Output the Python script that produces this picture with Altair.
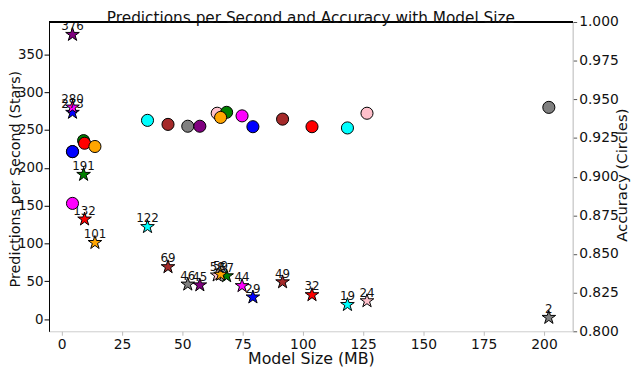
import altair as alt
import pandas as pd

# model sizes (MB), one entry per model, in plotting order
model_size = [4.5, 4.5, 4.5, 9.1, 9.5, 13.8, 35.6, 44.1, 52.3, 57.3,
              64.5, 68.4, 65.9, 74.8, 79.3, 91.6, 103.8, 118.5, 126.6, 202.0]
# predictions per second (stars, left axis)
pred_per_sec = [376, 273, 280, 191, 132, 101, 122, 69, 46, 45,
                58, 57, 59, 44, 29, 49, 32, 19, 24, 2]
# accuracy (circles, right axis)
accuracy = [0.9162, 0.9162, 0.8827, 0.9233, 0.9216, 0.9195, 0.9364, 0.9338, 0.9326, 0.9326,
            0.9410, 0.9416, 0.9383, 0.9393, 0.9323, 0.9372, 0.9323, 0.9315, 0.9410, 0.9448]
marker_color = ["purple", "blue", "magenta", "green", "red", "orange", "cyan", "brown", "gray", "purple",
                "pink", "green", "orange", "magenta", "blue", "brown", "red", "cyan", "pink", "gray"]

x_ticks = [0, 25, 50, 75, 100, 125, 150, 175, 200]
left_ticks = [0, 50, 100, 150, 200, 250, 300, 350]
right_ticks = [0.8, 0.825, 0.85, 0.875, 0.9, 0.925, 0.95, 0.975, 1.0]

df = pd.DataFrame({
    "size": model_size,
    "pps": pred_per_sec,
    "acc": accuracy,
    "color": marker_color,
    "label": [str(v) for v in pred_per_sec],
})

STAR = ("M0,-1L0.2245,-0.309L0.951,-0.309L0.363,0.118L0.588,0.809L0,0.382"
        "L-0.588,0.809L-0.363,0.118L-0.951,-0.309L-0.2245,-0.309Z")

FONT = "DejaVu Sans"
W, H = 530, 313
LDOM = [-16.06, 392.7]

xs = alt.X("size:Q",
           scale=alt.Scale(domain=[-5.24, 211.9], nice=False, zero=False),
           axis=alt.Axis(values=x_ticks, title="Model Size (MB)", grid=False, domain=False,
                         tickSize=4, tickColor="#bbbbbb", labelPadding=2,
                         labelFontSize=14, titleFontSize=16, titlePadding=0,
                         labelFont=FONT, titleFont=FONT, labelColor="#111", titleColor="#111",
                         titleFontWeight="normal"))

y_left = alt.Y("pps:Q",
               scale=alt.Scale(domain=LDOM, nice=False, zero=False),
               axis=alt.Axis(values=left_ticks, title="Predictions per Second (Stars)", grid=False,
                             orient="left", domainColor="black", tickColor="black", tickSize=5,
                             labelPadding=1, labelFontSize=13.5, titleFontSize=14.5,
                             labelFont=FONT, titleFont=FONT, labelColor="#111", titleColor="#111",
                             titleFontWeight="normal", titleX=-40.5, titleY=H / 2 + 2,
                             titleBaseline="top", titleAlign="center", titleAngle=-90))

stars = alt.Chart(df).mark_point(shape=STAR, filled=True, size=210, stroke="black",
                                  strokeWidth=1, opacity=1).encode(
    x=xs, y=y_left, fill=alt.Fill("color:N", scale=None))

labels = alt.Chart(df).mark_text(baseline="alphabetic", dy=-4.5, fontSize=12, font=FONT,
                                 color="#111").encode(
    x=xs, y=alt.Y("pps:Q", scale=alt.Scale(domain=LDOM, nice=False, zero=False)),
    text="label:N")

circles = alt.Chart(df).mark_point(shape="circle", filled=True, size=150, stroke="black",
                                    strokeWidth=1, opacity=1).encode(
    x=xs,
    y=alt.Y("acc:Q", scale=alt.Scale(domain=[0.8, 1.0], nice=False, zero=False),
            axis=alt.Axis(values=right_ticks, format=".3f", title="Accuracy (Circles)", grid=False,
                          orient="right", domainColor="#cccccc", tickColor="#555555", tickSize=4,
                          labelPadding=2, labelFontSize=14, titleFontSize=15,
                          labelFont=FONT, titleFont=FONT, labelColor="#111", titleColor="#111",
                          titleFontWeight="normal", titleX=49, titleY=H / 2 - 2,
                          titleBaseline="middle", titleAlign="center", titleAngle=-90)),
    fill=alt.Fill("color:N", scale=None))

top_line = alt.Chart(df).mark_rule(color="black", strokeWidth=1).encode(
    x=alt.value(0), x2=alt.value(W), y=alt.value(0))

left_part = alt.layer(stars, labels, top_line)
chart = alt.layer(left_part, circles).resolve_scale(y="independent").properties(
    width=W, height=H,
    title=alt.TitleParams("Predictions per Second and Accuracy with Model Size",
                          font=FONT, fontSize=15.5, fontWeight="normal", color="#111",
                          anchor="middle", baseline="alphabetic", offset=1, dy=24),
    autosize=alt.AutoSizeParams(type="none"),
    padding={"left": 41.5, "top": 12, "right": 60, "bottom": 37},
).configure_view(stroke="#cccccc", strokeWidth=1)

chart.save("out.html", embed_options={"renderer": "svg", "actions": False})
